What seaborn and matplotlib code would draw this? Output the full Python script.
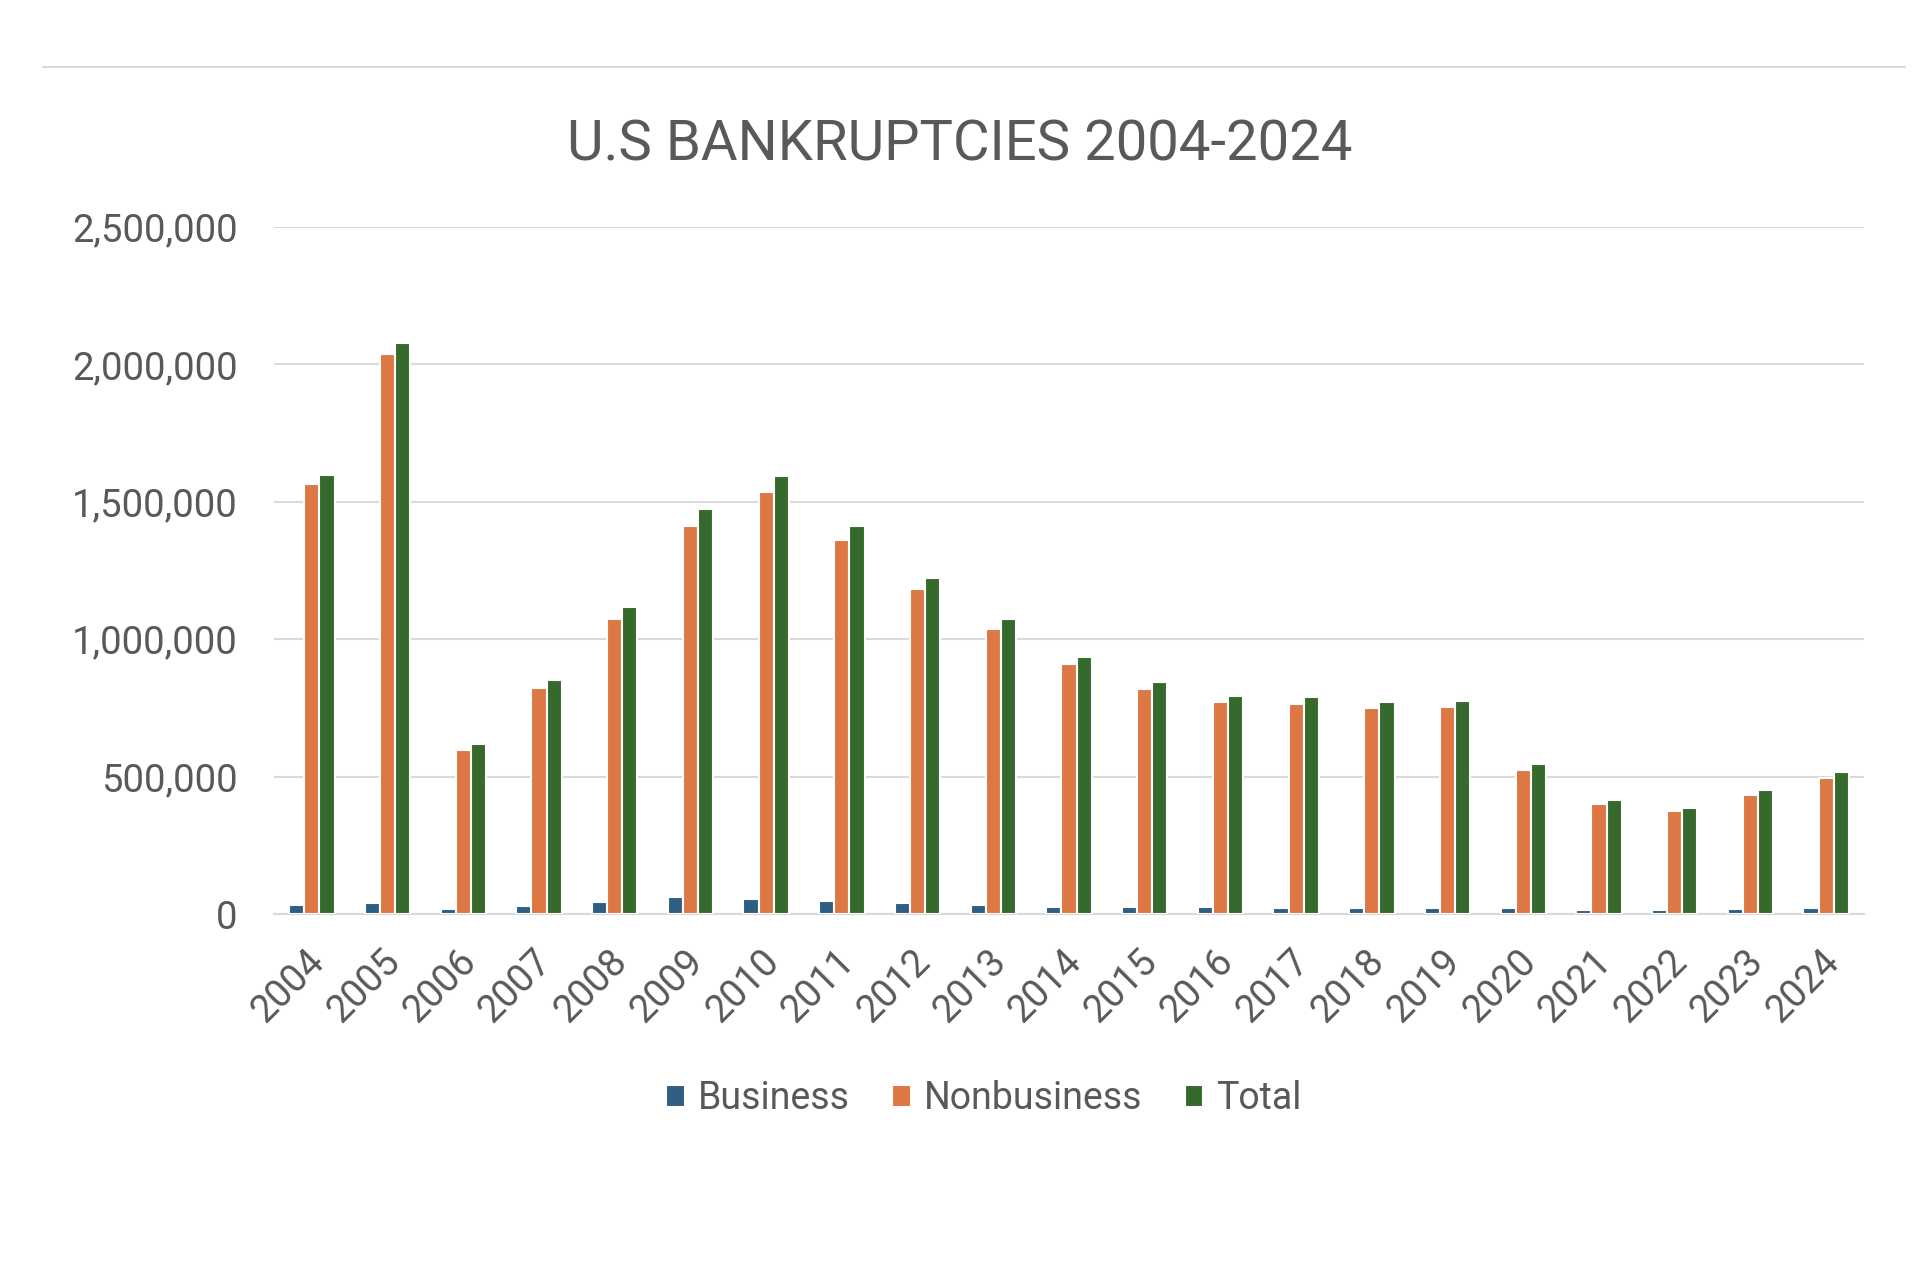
import matplotlib
matplotlib.use('Agg')

import pandas as pd
import matplotlib.pyplot as plt
import matplotlib.lines as mlines
import matplotlib.ticker as mticker
import matplotlib.transforms as mtransforms
import seaborn as sns

YEARS = [str(y) for y in range(2004, 2025)]
BUSINESS = [34317, 39201, 19695, 28322, 43546, 60837, 56282, 47806, 40075, 33212, 26983,
            24735, 24114, 23157, 22232, 22780, 21655, 14347, 13481, 18926, 23107]
NONBUSINESS = [1563145, 2039214, 597965, 822590, 1074225, 1412838, 1536799, 1362847, 1181016,
               1038720, 909812, 819760, 770846, 765863, 751186, 752160, 522808, 399269,
               374240, 434064, 494000]
TOTAL = [1597462, 2078415, 617660, 850912, 1117771, 1473675, 1593081, 1410653, 1221091,
         1071932, 936795, 844495, 794960, 789020, 773418, 774940, 544463, 413616,
         387721, 452990, 517107]
SERIES = ['Business', 'Nonbusiness', 'Total']
COLORS = ['#2E5E82', '#DD7743', '#366A2D']

TEXT_COLOR = '#595959'
GRID_COLOR = '#D9D9D9'
FONT = ['Roboto', 'DejaVu Sans']


def get_data() -> pd.DataFrame:
    df = pd.DataFrame({'year': YEARS, 'Business': BUSINESS,
                       'Nonbusiness': NONBUSINESS, 'Total': TOTAL})
    return df.melt(id_vars='year', value_vars=SERIES, var_name='type', value_name='count')


def main():
    data = get_data()

    sns.set_theme(style='white')
    plt.rcParams['font.family'] = FONT

    fig = plt.figure(figsize=(19.24, 12.68), dpi=100)
    ax = fig.add_axes([0.1424, 0.2791, 0.9688 - 0.1424, 0.821 - 0.2791])

    sns.barplot(data=data, x='year', y='count', hue='type', hue_order=SERIES,
                palette=COLORS, width=0.6, edgecolor='white', linewidth=1.5,
                saturation=1, ax=ax, zorder=3)

    ax.set_ylim(0, 2_500_000)
    ax.set_xlim(-0.5, len(YEARS) - 0.5)
    ax.yaxis.set_major_locator(mticker.MultipleLocator(500_000))
    ax.yaxis.set_major_formatter(mticker.FuncFormatter(lambda v, _: f'{v:,.0f}'))
    ax.grid(axis='y', color=GRID_COLOR, linewidth=1.5, zorder=0)
    ax.set_axisbelow(True)
    for side in ['top', 'right', 'left']:
        ax.spines[side].set_visible(False)
    ax.spines['bottom'].set_color(GRID_COLOR)
    ax.spines['bottom'].set_linewidth(1.5)

    ax.set_xlabel('')
    ax.set_ylabel('')
    ax.tick_params(axis='y', length=0, pad=26, labelsize=27.5, labelcolor=TEXT_COLOR)
    ax.tick_params(axis='x', length=0, pad=30, labelsize=27.5, labelcolor=TEXT_COLOR)
    shift = mtransforms.ScaledTranslation(5 / 72, 0, fig.dpi_scale_trans)
    for lbl in ax.get_xticklabels():
        lbl.set_rotation(45)
        lbl.set_ha('right')
        lbl.set_va('center')
        lbl.set_rotation_mode('anchor')
        lbl.set_transform(lbl.get_transform() + shift)

    # легенда внизу по центру
    handles, labels = ax.get_legend_handles_labels()
    ax.legend_.remove()
    fig.legend(handles, labels, loc='center', bbox_to_anchor=(0.5115, 0.1335), ncol=3,
               frameon=False, fontsize=27, labelcolor=TEXT_COLOR,
               handlelength=0.5, handleheight=0.5, handletextpad=0.35, columnspacing=1.12)

    fig.text(0.499, 0.886, 'U.S BANKRUPTCIES 2004-2024', ha='center', va='center',
             fontsize=40.5, color=TEXT_COLOR)
    fig.add_artist(mlines.Line2D([43 / 1924, 1905 / 1924], [1 - 67 / 1268, 1 - 67 / 1268],
                                 color=GRID_COLOR, linewidth=1.5, transform=fig.transFigure))

    fig.savefig('out.png', dpi=100, facecolor='white')


if __name__ == '__main__':
    main()
